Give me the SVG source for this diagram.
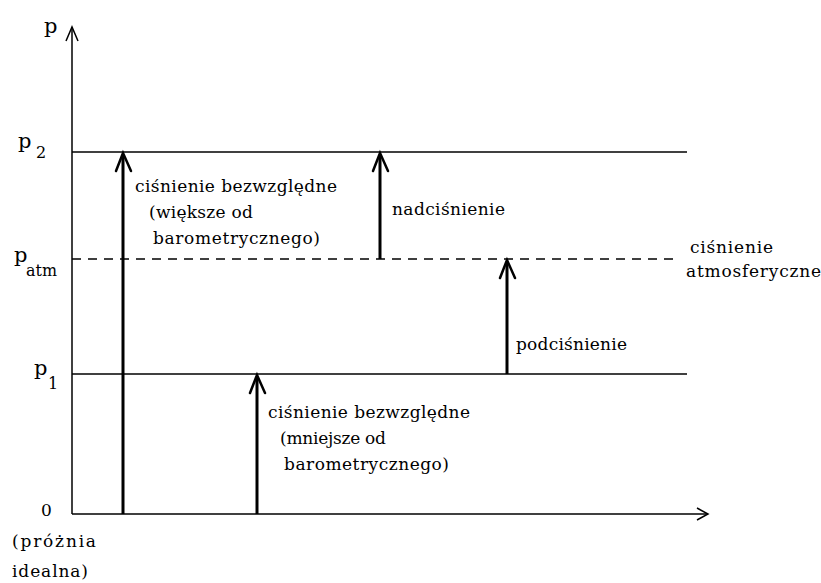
<svg xmlns="http://www.w3.org/2000/svg" width="821" height="583" viewBox="0 0 821 583">
<style>
text{font-family:"DejaVu Serif",serif;font-size:17px;fill:#000}
.lbl{font-size:21px}
.sub{font-size:16px}
.ax{stroke:#000;stroke-width:1.5;fill:none}
.lvl{stroke:#000;stroke-width:1.3;fill:none}
.dash{stroke:#000;stroke-width:1.3;fill:none;stroke-dasharray:9 7}
.arr{stroke:#000;stroke-width:3;fill:none}
.head{stroke:#000;stroke-width:2.5;fill:none;stroke-linecap:round;stroke-linejoin:miter}
</style>
<rect width="821" height="583" fill="#fff"/>
<g id="connectors">
<line class="ax" x1="72" y1="514" x2="72" y2="27"/>
<polyline class="ax" points="66,41 72,27 78,41"/>
<line class="ax" x1="72" y1="514" x2="707" y2="514"/>
<polyline class="ax" points="697,508 708,514 697,520"/>
<line class="lvl" x1="72" y1="152" x2="687" y2="152"/>
<line class="dash" x1="72" y1="259" x2="678" y2="259"/>
<line class="lvl" x1="72" y1="374" x2="687" y2="374"/>
<line class="arr" x1="123" y1="514" x2="123" y2="155"/>
<polyline class="head" points="116,171 123,153 131,171"/>
<line class="arr" x1="380" y1="259" x2="380" y2="155"/>
<polyline class="head" points="373,171 380,153 388,171"/>
<line class="arr" x1="507" y1="374" x2="507" y2="262"/>
<polyline class="head" points="500,278 507,260 515,278"/>
<line class="arr" x1="257" y1="514" x2="257" y2="377"/>
<polyline class="head" points="250,393 257,375 265,393"/>
</g>
<g id="axis-labels">
<text class="lbl" x="44" y="33">p</text>
<text class="lbl" x="18" y="148">p</text><text class="sub" x="36" y="158">2</text>
<text class="lbl" x="14" y="262">p</text><text class="sub" x="26" y="276" textLength="31" lengthAdjust="spacingAndGlyphs">atm</text>
<text class="lbl" x="34" y="375">p</text><text class="sub" x="48" y="389">1</text>
<text x="41" y="516">0</text>
<text x="12" y="547" textLength="84">(próżnia</text>
<text x="12" y="577" textLength="76">idealna)</text>
</g>
<g id="label-abs-high">
<text x="135" y="192" textLength="202">ciśnienie bezwzględne</text>
<text x="149" y="218" textLength="104">(większe od</text>
<text x="153" y="244" textLength="167">barometrycznego)</text>
</g>
<g id="label-nad">
<text x="392" y="215" textLength="113">nadciśnienie</text>
</g>
<g id="label-atm">
<text x="690" y="253" textLength="83">ciśnienie</text>
<text x="686" y="277" textLength="135">atmosferyczne</text>
</g>
<g id="label-pod">
<text x="516" y="350" textLength="111">podciśnienie</text>
</g>
<g id="label-abs-low">
<text x="268" y="418" textLength="202">ciśnienie bezwzględne</text>
<text x="280" y="444" textLength="106">(mniejsze od</text>
<text x="284" y="470" textLength="165">barometrycznego)</text>
</g>
</svg>
